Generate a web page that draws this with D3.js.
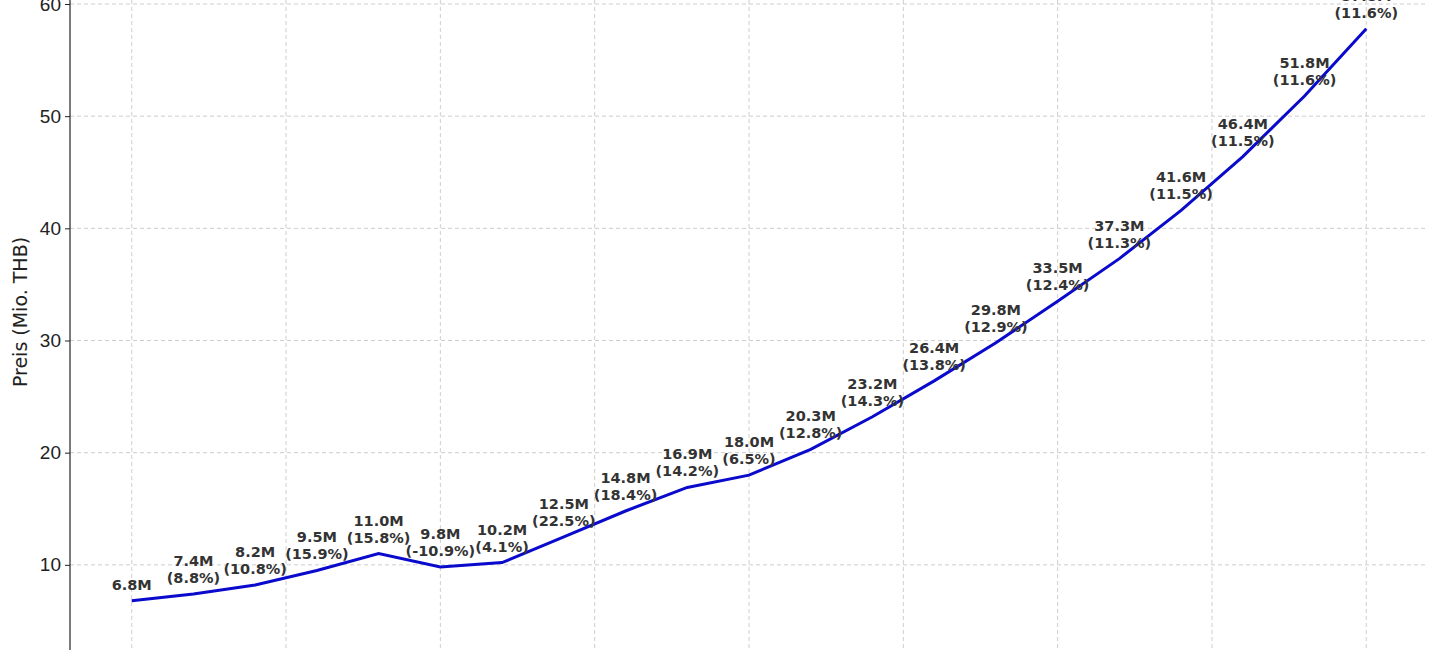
<!DOCTYPE html>
<html><head><meta charset="utf-8">
<script src="https://cdn.jsdelivr.net/npm/d3@7"></script>
<style>body{margin:0;background:#fff}svg{display:block;font-family:"DejaVu Sans",sans-serif}</style>
</head><body><svg id="c" width="1440" height="650"></svg>
<script>
const periods = d3.range(0,21);
const prices = [6.8,7.4,8.2,9.5,11.0,9.8,10.2,12.5,14.8,16.9,18.0,20.3,23.2,26.4,29.8,33.5,37.3,41.6,46.4,51.8,57.8];
const growth = [null,8.8,10.8,15.9,15.8,-10.9,4.1,22.5,18.4,14.2,6.5,12.8,14.3,13.8,12.9,12.4,11.3,11.5,11.5,11.6,11.6];
const yTicks = [10,20,30,40,50,60];
const xGrid = [0,2.5,5,7.5,10,12.5,15,17.5,20];

const svg = d3.select("#c");
const x = d3.scaleLinear().domain([-1,21]).range([70,1428]);
const y = d3.scaleLinear().domain([0,60]).range([677,4]);

const g = svg.append("g");
g.selectAll(".vg").data(xGrid).join("line")
 .attr("x1",d=>x(d)).attr("x2",d=>x(d)).attr("y1",0).attr("y2",650)
 .attr("stroke","#c8c8c8").attr("stroke-dasharray","4,3").attr("stroke-width",0.9);
g.selectAll(".hg").data(yTicks).join("line")
 .attr("x1",70).attr("x2",1428).attr("y1",d=>y(d)).attr("y2",d=>y(d))
 .attr("stroke","#c8c8c8").attr("stroke-dasharray","4,3").attr("stroke-width",0.9);

const ax = d3.axisLeft(y).tickValues(yTicks).tickSize(5).tickPadding(4);
const ag = svg.append("g").attr("transform","translate(70,0)").call(ax);
ag.select(".domain").remove();
ag.selectAll("text").attr("font-size",19).attr("fill","#222");
ag.selectAll("line").attr("stroke","#222");
svg.append("line").attr("x1",70).attr("x2",70).attr("y1",0).attr("y2",650).attr("stroke","#222").attr("stroke-width",1.2);

svg.append("text").attr("transform","translate(27,312) rotate(-90)").attr("text-anchor","middle")
 .attr("font-size",19).attr("fill","#222").text("Preis (Mio. THB)");

svg.append("path").datum(periods).attr("fill","none").attr("stroke","#0a0acc").attr("stroke-width",3)
 .attr("d",d3.line().x(d=>x(d)).y(d=>y(prices[d])));

const lab = svg.append("g").attr("font-size",14.5).attr("font-weight","bold").attr("fill","#333").attr("text-anchor","middle");
periods.forEach(i=>{
  const px=x(i), py=y(prices[i]);
  if(growth[i]===null){
    lab.append("text").attr("x",px).attr("y",py-11).text(prices[i].toFixed(1)+"M");
  } else {
    lab.append("text").attr("x",px).attr("y",py-28).text(prices[i].toFixed(1)+"M");
    lab.append("text").attr("x",px).attr("y",py-11).text("("+growth[i].toFixed(1)+"%)");
  }
});
</script></body></html>
